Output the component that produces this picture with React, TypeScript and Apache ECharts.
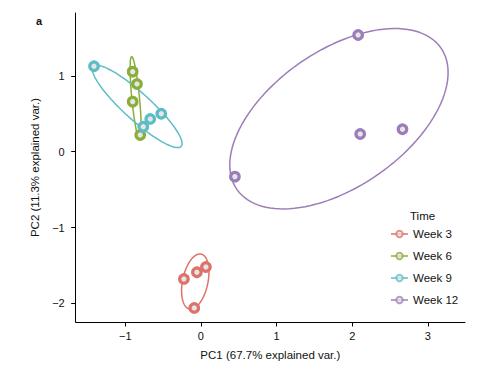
import React, { useEffect, useRef } from "react";
import * as echarts from "echarts";

const groups = ["Week 3", "Week 6", "Week 9", "Week 12"];
const colors = ["#DD716B", "#89AE3A", "#5CBDC6", "#9C7DBA"];
const pc1Week3 = [-0.225, -0.053, 0.066, -0.088];
const pc2Week3 = [-1.677, -1.589, -1.519, -2.059];
const pc1Week6 = [-0.902, -0.845, -0.902, -0.802];
const pc2Week6 = [1.054, 0.892, 0.659, 0.22];
const pc1Week9 = [-1.413, -0.762, -0.67, -0.524];
const pc2Week9 = [1.125, 0.329, 0.431, 0.5];
const pc1Week12 = [2.078, 2.105, 2.664, 0.449];
const pc2Week12 = [1.537, 0.233, 0.295, -0.329];
const xTicks = [-1, 0, 1, 2, 3];
const yTicks = [-2, -1, 0, 1];
const ellipseProb = 0.68;

const pc1 = [pc1Week3, pc1Week6, pc1Week9, pc1Week12];
const pc2 = [pc2Week3, pc2Week6, pc2Week9, pc2Week12];

function mean(a: number[]) {
  return a.reduce((s, v) => s + v, 0) / a.length;
}

// ggbiplot-style normal data ellipse
function ellipse(xs: number[], ys: number[]) {
  const n = xs.length;
  const mx = mean(xs);
  const my = mean(ys);
  let sxx = 0, syy = 0, sxy = 0;
  for (let i = 0; i < n; i++) {
    sxx += (xs[i] - mx) ** 2;
    syy += (ys[i] - my) ** 2;
    sxy += (xs[i] - mx) * (ys[i] - my);
  }
  sxx /= n - 1; syy /= n - 1; sxy /= n - 1;
  const a = Math.sqrt(sxx);
  const b = sxy / a;
  const c = Math.sqrt(Math.max(syy - b * b, 0));
  const r = Math.sqrt(-2 * Math.log(1 - ellipseProb));
  const pts: number[][] = [];
  const N = 120;
  for (let k = 0; k <= N; k++) {
    const t = -Math.PI + (2 * Math.PI * k) / N;
    const ct = Math.cos(t), st = Math.sin(t);
    pts.push([mx + r * ct * a, my + r * (ct * b + st * c)]);
  }
  return pts;
}

const FONT = "'Liberation Sans', Arial, Helvetica, sans-serif";
const fmt = (v: number) => (v < 0 ? "\u2212" + Math.abs(v) : String(v));

export default function App() {
  const ref = useRef<HTMLDivElement>(null);
  useEffect(() => {
    if (!ref.current) return;
    const chart = echarts.init(ref.current, undefined, { renderer: "svg" });
    const series: any[] = [];
    groups.forEach((g, i) => {
      series.push({
        name: g,
        type: "line",
        data: ellipse(pc1[i], pc2[i]),
        showSymbol: false,
        symbol: "circle",
        smooth: false,
        lineStyle: { color: colors[i], width: 1.5 },
        itemStyle: { color: "#e8e8e8", borderColor: colors[i], borderWidth: 1.5 },
        z: 2,
        silent: true,
      });
    });
    groups.forEach((g, i) => {
      series.push({
        name: g,
        type: "scatter",
        data: pc1[i].map((x, j) => [x, pc2[i][j]]),
        symbol: "circle",
        symbolSize: 8.5,
        itemStyle: { color: "#e6e6e6", borderColor: colors[i], borderWidth: 3.2, opacity: 1 },
        z: 3,
      });
    });
    chart.setOption({
      animation: false,
      textStyle: { fontFamily: FONT },
      title: [
        {
          text: "a",
          left: 31,
          top: 10,
          textStyle: { fontSize: 11, fontWeight: "bold", color: "#111", fontFamily: FONT },
        },
        {
          text: "Time",
          left: 405,
          top: 205,
          textStyle: { fontSize: 11.5, fontWeight: "normal", color: "#111", fontFamily: FONT },
        },
      ],
      legend: {
        data: groups,
        orient: "vertical",
        left: 385,
        top: 223,
        itemWidth: 17,
        itemHeight: 8,
        itemGap: 10,
        textStyle: { fontSize: 11.5, color: "#111", fontFamily: FONT },
        itemStyle: { opacity: 0.75 },
        lineStyle: { opacity: 0.75 },
        selectedMode: false,
      },
      grid: { left: 75.7, right: 23, top: 13, bottom: 46, containLabel: false },
      xAxis: {
        type: "value",
        min: -1.655,
        max: 3.49,
        name: "PC1 (67.7% explained var.)",
        nameLocation: "middle",
        nameGap: 27,
        nameTextStyle: { fontSize: 11.5, color: "#111", fontFamily: FONT },
        axisLine: { show: true, onZero: false, lineStyle: { color: "#000", width: 1 } },
        axisTick: { show: true, length: 4.5, lineStyle: { color: "#000" }, customValues: xTicks },
        axisLabel: {
          fontSize: 11,
          color: "#111",
          margin: 8,
          customValues: xTicks,
          formatter: fmt,
        },
        splitLine: { show: false },
      },
      yAxis: {
        type: "value",
        min: -2.244,
        max: 1.827,
        name: "PC2 (11.3% explained var.)",
        nameLocation: "middle",
        nameGap: 35,
        nameTextStyle: { fontSize: 11.5, color: "#111", fontFamily: FONT },
        axisLine: { show: true, onZero: false, lineStyle: { color: "#000", width: 1 } },
        axisTick: { show: true, length: 4.5, lineStyle: { color: "#000" }, customValues: yTicks },
        axisLabel: {
          fontSize: 11,
          color: "#111",
          margin: 11,
          customValues: yTicks,
          formatter: fmt,
        },
        splitLine: { show: false },
      },
      series,
    });
    return () => chart.dispose();
  }, []);
  return (
    <div
      ref={ref}
      style={{ position: "fixed", left: 0, top: 0, width: 488, height: 368, background: "#fff" }}
    />
  );
}
